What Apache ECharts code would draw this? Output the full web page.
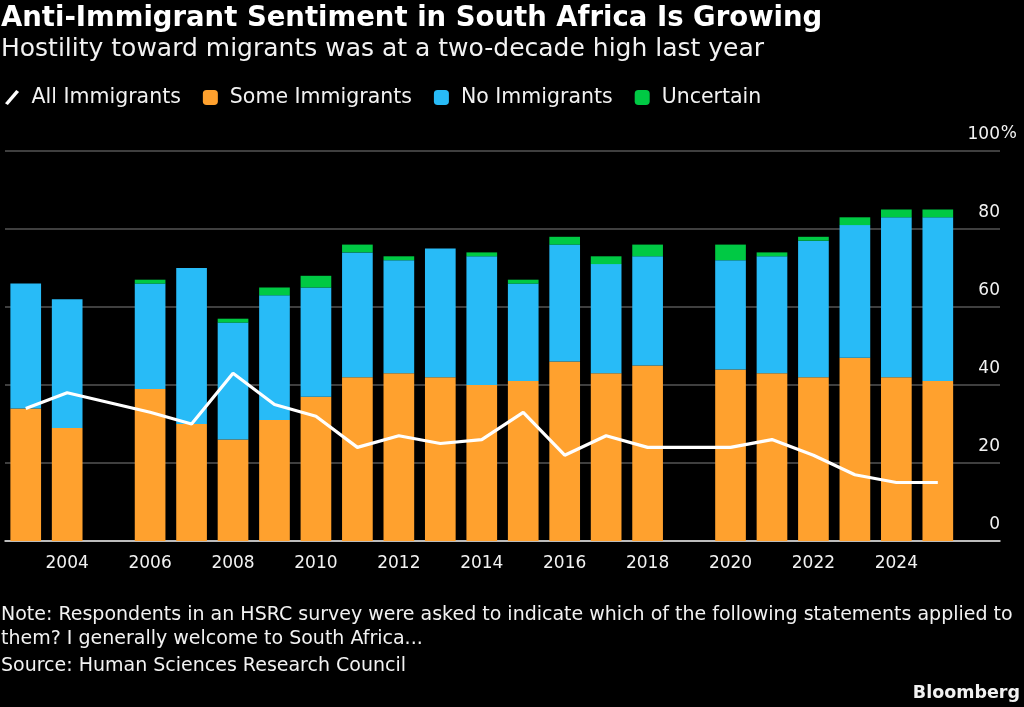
<!DOCTYPE html>
<html>
<head>
<meta charset="utf-8">
<script src="https://cdn.jsdelivr.net/npm/echarts@6/dist/echarts.min.js"></script>
<style>
  html, body { margin: 0; padding: 0; background: #000; }
  #chart { width: 1024px; height: 707px; }
</style>
</head>
<body>
<div id="chart"></div>
<script>
// years on the axis; the last slot is an empty pad so the grid runs past 2025
const years = ['2003', '2004', '2005', '2006', '2007', '2008', '2009', '2010', '2011', '2012',
  '2013', '2014', '2015', '2016', '2017', '2018', '2019', '2020', '2021', '2022',
  '2023', '2024', '2025', '']

const someImmigrants = [34, 29, null, 39, 30, 26, 31, 37, 42, 43, 42, 40, 41, 46, 43, 45, null, 44, 43, 42, 47, 42, 41, null]
const noImmigrants = [32, 33, null, 27, 40, 30, 32, 28, 32, 29, 33, 33, 25, 30, 28, 28, null, 28, 30, 35, 34, 41, 42, null]
const uncertain = [0, 0, null, 1, 0, 1, 2, 3, 2, 1, 0, 1, 1, 2, 2, 3, null, 4, 1, 1, 2, 2, 2, null]
const allImmigrants = [34, 38, null, 33, 30, 43, 35, 32, 24, 27, 25, 26, 33, 22, 27, 24, null, 24, 26, 22, 17, 15, 15, null]

const yTicks = [0, 20, 40, 60, 80, 100]

const FONT = 'DejaVu Sans'
const TXT = '#f2f2f2'
const ORANGE = '#FFA12E'
const BLUE = '#28BBF7'
const GREEN = '#00C944'

const chart = echarts.init(document.getElementById('chart'))

const barSeries = (name, data, color) => ({
  name,
  type: 'bar',
  stack: 'total',
  barWidth: '74%',
  data,
  itemStyle: { color },
  emphasis: { disabled: true },
})

const options = {
  backgroundColor: '#000',
  animation: false,
  title: [{
    text: 'Anti-Immigrant Sentiment in South Africa Is Growing',
    left: -4,
    top: 0,
    textStyle: { color: '#fff', fontFamily: FONT, fontWeight: 'bold', fontSize: 27.5 },
  }, {
    text: 'Hostility toward migrants was at a two-decade high last year',
    left: -4,
    top: 32,
    textStyle: { color: TXT, fontFamily: FONT, fontWeight: 'normal', fontSize: 25 },
  }, {
    text: 'Note: Respondents in an HSRC survey were asked to indicate which of the following statements applied to\nthem? I generally welcome to South Africa...',
    left: -4,
    top: 598,
    textStyle: { color: TXT, fontFamily: FONT, fontWeight: 'normal', fontSize: 19, lineHeight: 24 },
  }, {
    text: 'Source: Human Sciences Research Council',
    left: -4,
    top: 652,
    textStyle: { color: TXT, fontFamily: FONT, fontWeight: 'normal', fontSize: 19 },
  }, {
    text: 'Bloomberg',
    right: -1,
    top: 679,
    textStyle: { color: TXT, fontFamily: FONT, fontWeight: 'bold', fontSize: 17.5 },
  }],
  legend: {
    left: 0,
    top: 82,
    itemGap: 22,
    itemWidth: 15,
    itemHeight: 15,
    selectedMode: false,
    textStyle: { color: TXT, fontFamily: FONT, fontSize: 20.5, padding: [0, 0, 0, 7] },
    data: [
      { name: 'All Immigrants', icon: 'path://M0,14 L12,0 L15,2 L3,16 Z', itemStyle: { color: '#fff' } },
      { name: 'Some Immigrants', icon: 'roundRect' },
      { name: 'No Immigrants', icon: 'roundRect' },
      { name: 'Uncertain', icon: 'roundRect' },
    ],
  },
  // the percent sign hangs past the right edge of the grid, as in the original
  graphic: [{
    type: 'text',
    right: 7,
    top: 125,
    style: { text: '%', fill: TXT, font: `17px "${FONT}"` },
  }],
  grid: { left: 5, right: 24, top: 151, bottom: 166 },
  xAxis: [{
    type: 'category',
    data: years,
    axisLine: { lineStyle: { color: '#e6e6e6', width: 1.5 } },
    axisTick: {
      alignWithLabel: true,
      length: 9,
      interval: (i) => i % 2 === 1 && i < 23,
      lineStyle: { color: '#e6e6e6' },
    },
    axisLabel: {
      interval: (i) => i % 2 === 1 && i < 23,
      color: TXT,
      fontFamily: FONT,
      fontSize: 17,
      margin: 14,
    },
  }, {
    type: 'category',
    data: years,
    position: 'bottom',
    axisLine: { show: false },
    axisTick: {
      alignWithLabel: true,
      length: 5,
      interval: (i) => i < 23,
      lineStyle: { color: '#e6e6e6' },
    },
    axisLabel: { show: false },
  }],
  yAxis: {
    type: 'value',
    position: 'right',
    min: yTicks[0],
    max: yTicks[yTicks.length - 1],
    interval: 20,
    axisLine: { show: false },
    axisTick: { show: false },
    splitLine: { lineStyle: { color: '#555', width: 1.5 } },
    axisLabel: {
      inside: true,
      margin: 0,
      verticalAlign: 'bottom',
      padding: [0, 0, 8, 0],
      color: TXT,
      fontFamily: FONT,
      fontSize: 17,
    },
  },
  series: [
    barSeries('Some Immigrants', someImmigrants, ORANGE),
    barSeries('No Immigrants', noImmigrants, BLUE),
    barSeries('Uncertain', uncertain, GREEN),
    {
      name: 'All Immigrants',
      type: 'line',
      data: allImmigrants,
      connectNulls: true,
      symbol: 'none',
      lineStyle: { color: '#fff', width: 3.2 },
      itemStyle: { color: '#fff' },
      emphasis: { disabled: true },
      z: 5,
    },
  ],
}

chart.setOption(options)
</script>
</body>
</html>
